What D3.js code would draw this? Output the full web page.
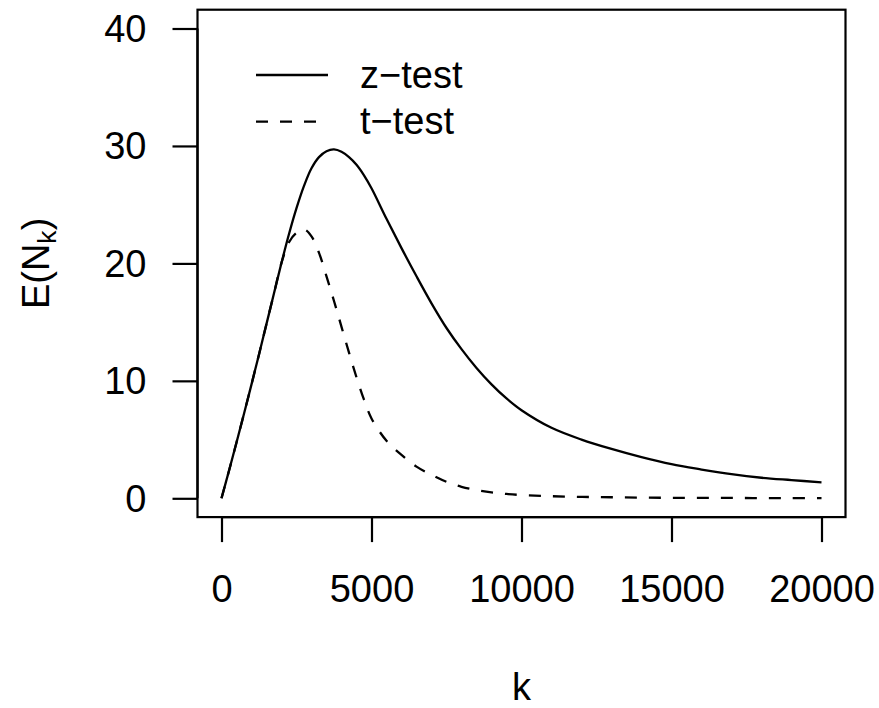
<!DOCTYPE html>
<html>
<head>
<meta charset="utf-8">
<script src="https://cdn.jsdelivr.net/npm/d3@7"></script>
<style>
  body { margin: 0; background: #fff; }
  text { font-family: "Liberation Sans", Arial, sans-serif; fill: #000; }
</style>
</head>
<body>
<div id="visContainer"></div>
<script>
// k grid and expected values
var kValues = [0, 250, 500, 750, 1000, 1250, 1500, 1750, 2000, 2250, 2500, 2750,
               3000, 3250, 3500, 3750, 4000, 4250, 4500, 4750, 5000, 5500, 6000,
               6500, 7000, 7500, 8000, 8500, 9000, 9500, 10000, 11000, 12000,
               13000, 14000, 15000, 16000, 17000, 18000, 19000, 20000];

var zTest = [0, 2.35, 4.75, 7.2, 9.7, 12.25, 14.85, 17.45, 20.05, 22.5, 24.7, 26.6,
             28.1, 29.05, 29.55, 29.7, 29.5, 29.05, 28.4, 27.5, 26.4, 23.8, 21.3,
             18.9, 16.6, 14.5, 12.7, 11.1, 9.7, 8.5, 7.5, 6.0, 5.0,
             4.2, 3.5, 2.9, 2.45, 2.05, 1.75, 1.55, 1.36];

var tTest = [0, 2.35, 4.75, 7.2, 9.7, 12.25, 14.85, 17.45, 20.05, 21.8, 22.6, 22.9,
             22.3, 20.9, 18.9, 16.8, 14.6, 12.4, 10.3, 8.4, 6.8, 4.9, 3.7,
             2.7, 2.0, 1.4, 0.98, 0.7, 0.5, 0.37, 0.28, 0.18, 0.12,
             0.09, 0.06, 0.04, 0.03, 0.03, 0.02, 0.02, 0.02];

var xTicks = [0, 5000, 10000, 15000, 20000];
var yTicks = [0, 10, 20, 30, 40];

var legendLabels = ["z\u2212test", "t\u2212test"];

var width = 879, height = 708;
var fontSize = 38;

var svg = d3.select("#visContainer").append("svg")
    .attr("width", width)
    .attr("height", height);

var x = d3.scaleLinear().domain([0, 20000]).range([221.5, 821.5]);
var y = d3.scaleLinear().domain([0, 40]).range([498.3, 28.5]);

// plot box (R extends the range 4% on each side)
var x0 = x(-800), x1 = x(20800), y0 = y(-1.6), y1 = y(41.6);
svg.append("rect")
    .attr("x", x0).attr("y", y1)
    .attr("width", x1 - x0).attr("height", y0 - y1)
    .attr("fill", "none").attr("stroke", "#000").attr("stroke-width", 2.2);

var xAxis = svg.append("g")
    .attr("transform", "translate(0," + y0 + ")")
    .call(d3.axisBottom(x).tickValues(xTicks).tickSize(25).tickPadding(33)
          .tickFormat(d3.format("d")));

var yAxis = svg.append("g")
    .attr("transform", "translate(" + x0 + ",0)")
    .call(d3.axisLeft(y).tickValues(yTicks).tickSize(25).tickPadding(26));

[xAxis, yAxis].forEach(function(ax) {
  ax.selectAll("path.domain").remove();
  ax.selectAll("line").attr("stroke", "#000").attr("stroke-width", 2.2);
  ax.selectAll("text")
      .style("font-size", fontSize + "px")
      .style("font-family", "'Liberation Sans', Arial, sans-serif")
      .attr("fill", "#000");
});
yAxis.selectAll("text").attr("dy", "0.34em");

// axis lines spanning the ticks
svg.append("line")
    .attr("x1", x(0)).attr("x2", x(20000)).attr("y1", y0).attr("y2", y0)
    .attr("stroke", "#000").attr("stroke-width", 2.2);
svg.append("line")
    .attr("x1", x0).attr("x2", x0).attr("y1", y(0)).attr("y2", y(40))
    .attr("stroke", "#000").attr("stroke-width", 2.2);

var line = d3.line()
    .x(function(d) { return x(d[0]); })
    .y(function(d) { return y(d[1]); })
    .curve(d3.curveCatmullRom.alpha(0.5));

svg.append("path")
    .datum(d3.zip(kValues, zTest))
    .attr("d", line)
    .attr("fill", "none")
    .attr("stroke", "#000")
    .attr("stroke-width", 2.3);

svg.append("path")
    .datum(d3.zip(kValues, tTest))
    .attr("d", line)
    .attr("fill", "none")
    .attr("stroke", "#000")
    .attr("stroke-width", 2.3)
    .attr("stroke-dasharray", "12,12");

// legend
var legend = svg.append("g");
legendLabels.forEach(function(lbl, i) {
  var ly = 75 + i * 46.7;
  legend.append("line")
      .attr("x1", 256).attr("x2", 328)
      .attr("y1", ly).attr("y2", ly)
      .attr("stroke", "#000").attr("stroke-width", 2.3)
      .attr("stroke-dasharray", i === 0 ? null : "12,12");
  legend.append("text")
      .attr("x", 360).attr("y", ly + 12.5)
      .style("font-size", fontSize + "px")
      .text(lbl);
});

// axis titles
svg.append("text")
    .attr("x", x(10000))
    .attr("y", 700)
    .style("text-anchor", "middle")
    .style("font-size", fontSize + "px")
    .text("k");

var yl = svg.append("text")
    .attr("transform", "translate(49," + ((y0 + y1) / 2) + ") rotate(-90)")
    .style("text-anchor", "middle")
    .style("font-size", fontSize + "px");
yl.append("tspan").text("E(N");
yl.append("tspan").attr("dy", "0.25em").style("font-size", (fontSize * 0.7) + "px").text("k");
yl.append("tspan").attr("dy", "-0.17em").text(")");
</script>
</body>
</html>
